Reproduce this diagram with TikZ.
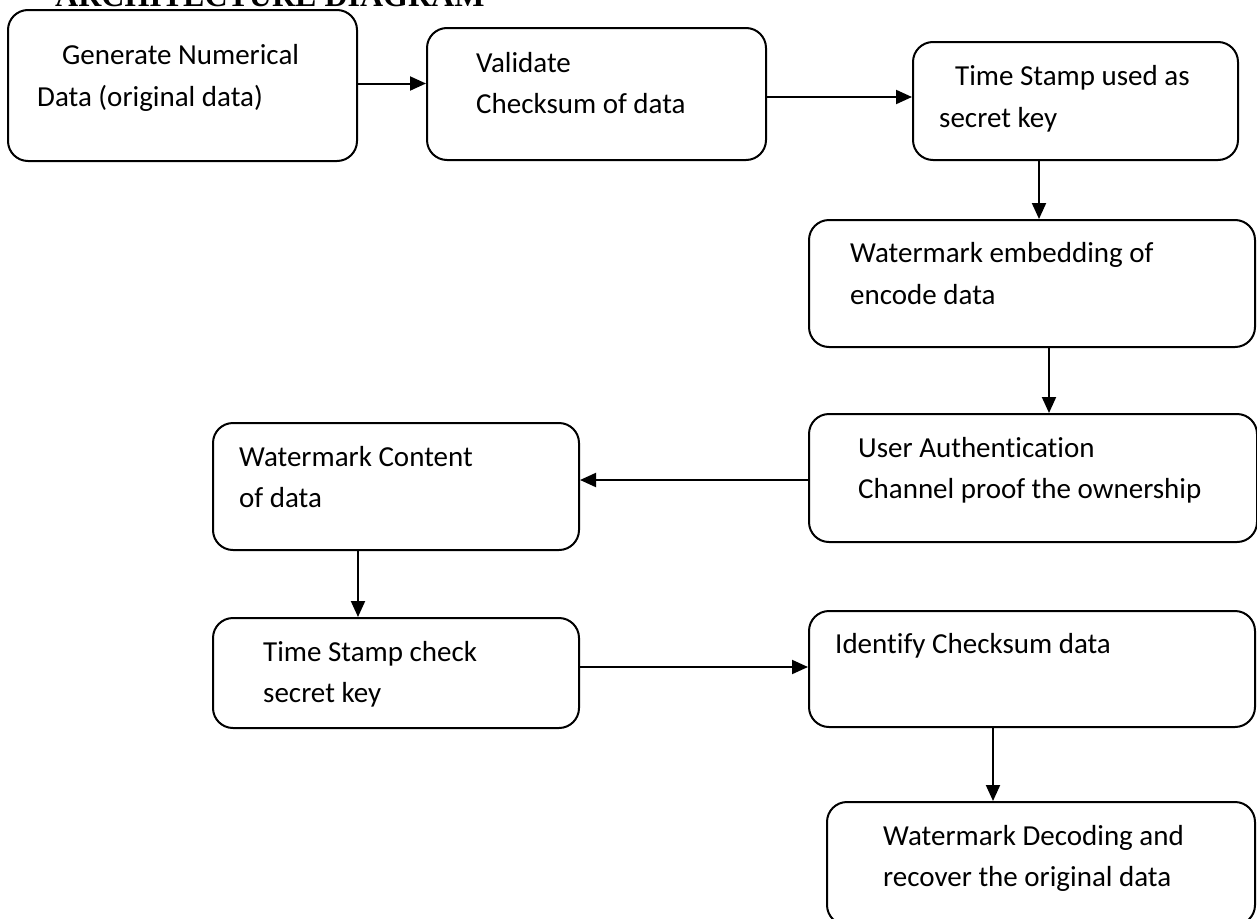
\documentclass[tikz,border=0pt]{standalone}
\usepackage{fontspec}
\setmainfont{Carlito}[Ligatures=NoCommon]
\newfontfamily\headfont{Liberation Serif}
\usetikzlibrary{arrows.meta}

\tikzset{
  box/.style={draw=black, line width=2pt, rounded corners=20pt, inner sep=0pt},
  lbl/.style={anchor=base west, inner sep=0pt, font=\fontsize{29}{35}\selectfont},
  arr/.style={draw=black, line width=2pt, -{Triangle[length=16pt,width=14pt]}},
}

\begin{document}
\begin{tikzpicture}[x=1pt, y=-1pt]
\useasboundingbox (0,0) rectangle (1257,918);
\clip (0,0) rectangle (1257,918);

% heading (runs off the top edge)
\node[anchor=base west, inner sep=0pt, font=\headfont\bfseries\fontsize{32}{38}\selectfont] (title) at (55,6) {ARCHITECTURE DIAGRAM};

% process boxes: centre, width, height
\node[box, minimum width=349pt, minimum height=151pt] (b1) at (182.5,85.5) {};
\node[box, minimum width=339pt, minimum height=132pt] (b2) at (596.5,94) {};
\node[box, minimum width=325pt, minimum height=118pt] (b3) at (1075.5,101) {};
\node[box, minimum width=446pt, minimum height=127pt] (b4) at (1032,283.5) {};
\node[box, minimum width=448pt, minimum height=128pt] (b5) at (1033,478) {};
\node[box, minimum width=366pt, minimum height=127pt] (b6) at (396,486.5) {};
\node[box, minimum width=366pt, minimum height=110pt] (b7) at (396,673) {};
\node[box, minimum width=446pt, minimum height=116pt] (b8) at (1032,669) {};
\node[box, minimum width=428pt, minimum height=123pt] (b9) at (1041,863.5) {};

% box texts
\node[lbl] (t1a) at (62,64)  {Generate Numerical};
\node[lbl] (t1b) at (37,106) {Data (original data)};
\node[lbl] (t2a) at (476,72)  {Validate};
\node[lbl] (t2b) at (476,113) {Checksum of data};
\node[lbl] (t3a) at (955,85)  {Time Stamp used as};
\node[lbl] (t3b) at (939,127) {secret key};
\node[lbl] (t4a) at (850,262) {Watermark embedding of};
\node[lbl] (t4b) at (850,304) {encode data};
\node[lbl] (t5a) at (858,457) {User Authentication};
\node[lbl] (t5b) at (858,498) {Channel proof the ownership};
\node[lbl] (t6a) at (239,466) {Watermark Content};
\node[lbl] (t6b) at (239,507) {of data};
\node[lbl] (t7a) at (263,661) {Time Stamp check};
\node[lbl] (t7b) at (263,702) {secret key};
\node[lbl] (t8a) at (835,653) {Identify Checksum data};
\node[lbl] (t9a) at (883,845) {Watermark Decoding and};
\node[lbl] (t9b) at (883,886) {recover the original data};

% flow
\draw[arr] ([yshift=2pt]b1.east) -- ([yshift=2pt]b1.east -| b2.west);
\draw[arr] ([yshift=-3pt]b2.east) -- ([yshift=-3pt]b2.east -| b3.west);
\draw[arr] (b3.south -| 1039,0) -- (b4.north -| 1039,0);
\draw[arr] (b4.south -| 1049,0) -- (b5.north -| 1049,0);
\draw[arr] ([yshift=-2pt]b5.west) -- ([yshift=-2pt]b5.west -| b6.east);
\draw[arr] (b6.south -| 358,0) -- (b7.north -| 358,0);
\draw[arr] ([yshift=6pt]b7.east) -- ([yshift=6pt]b7.east -| b8.west);
\draw[arr] (b8.south -| 993,0) -- (b9.north -| 993,0);
\end{tikzpicture}
\end{document}
